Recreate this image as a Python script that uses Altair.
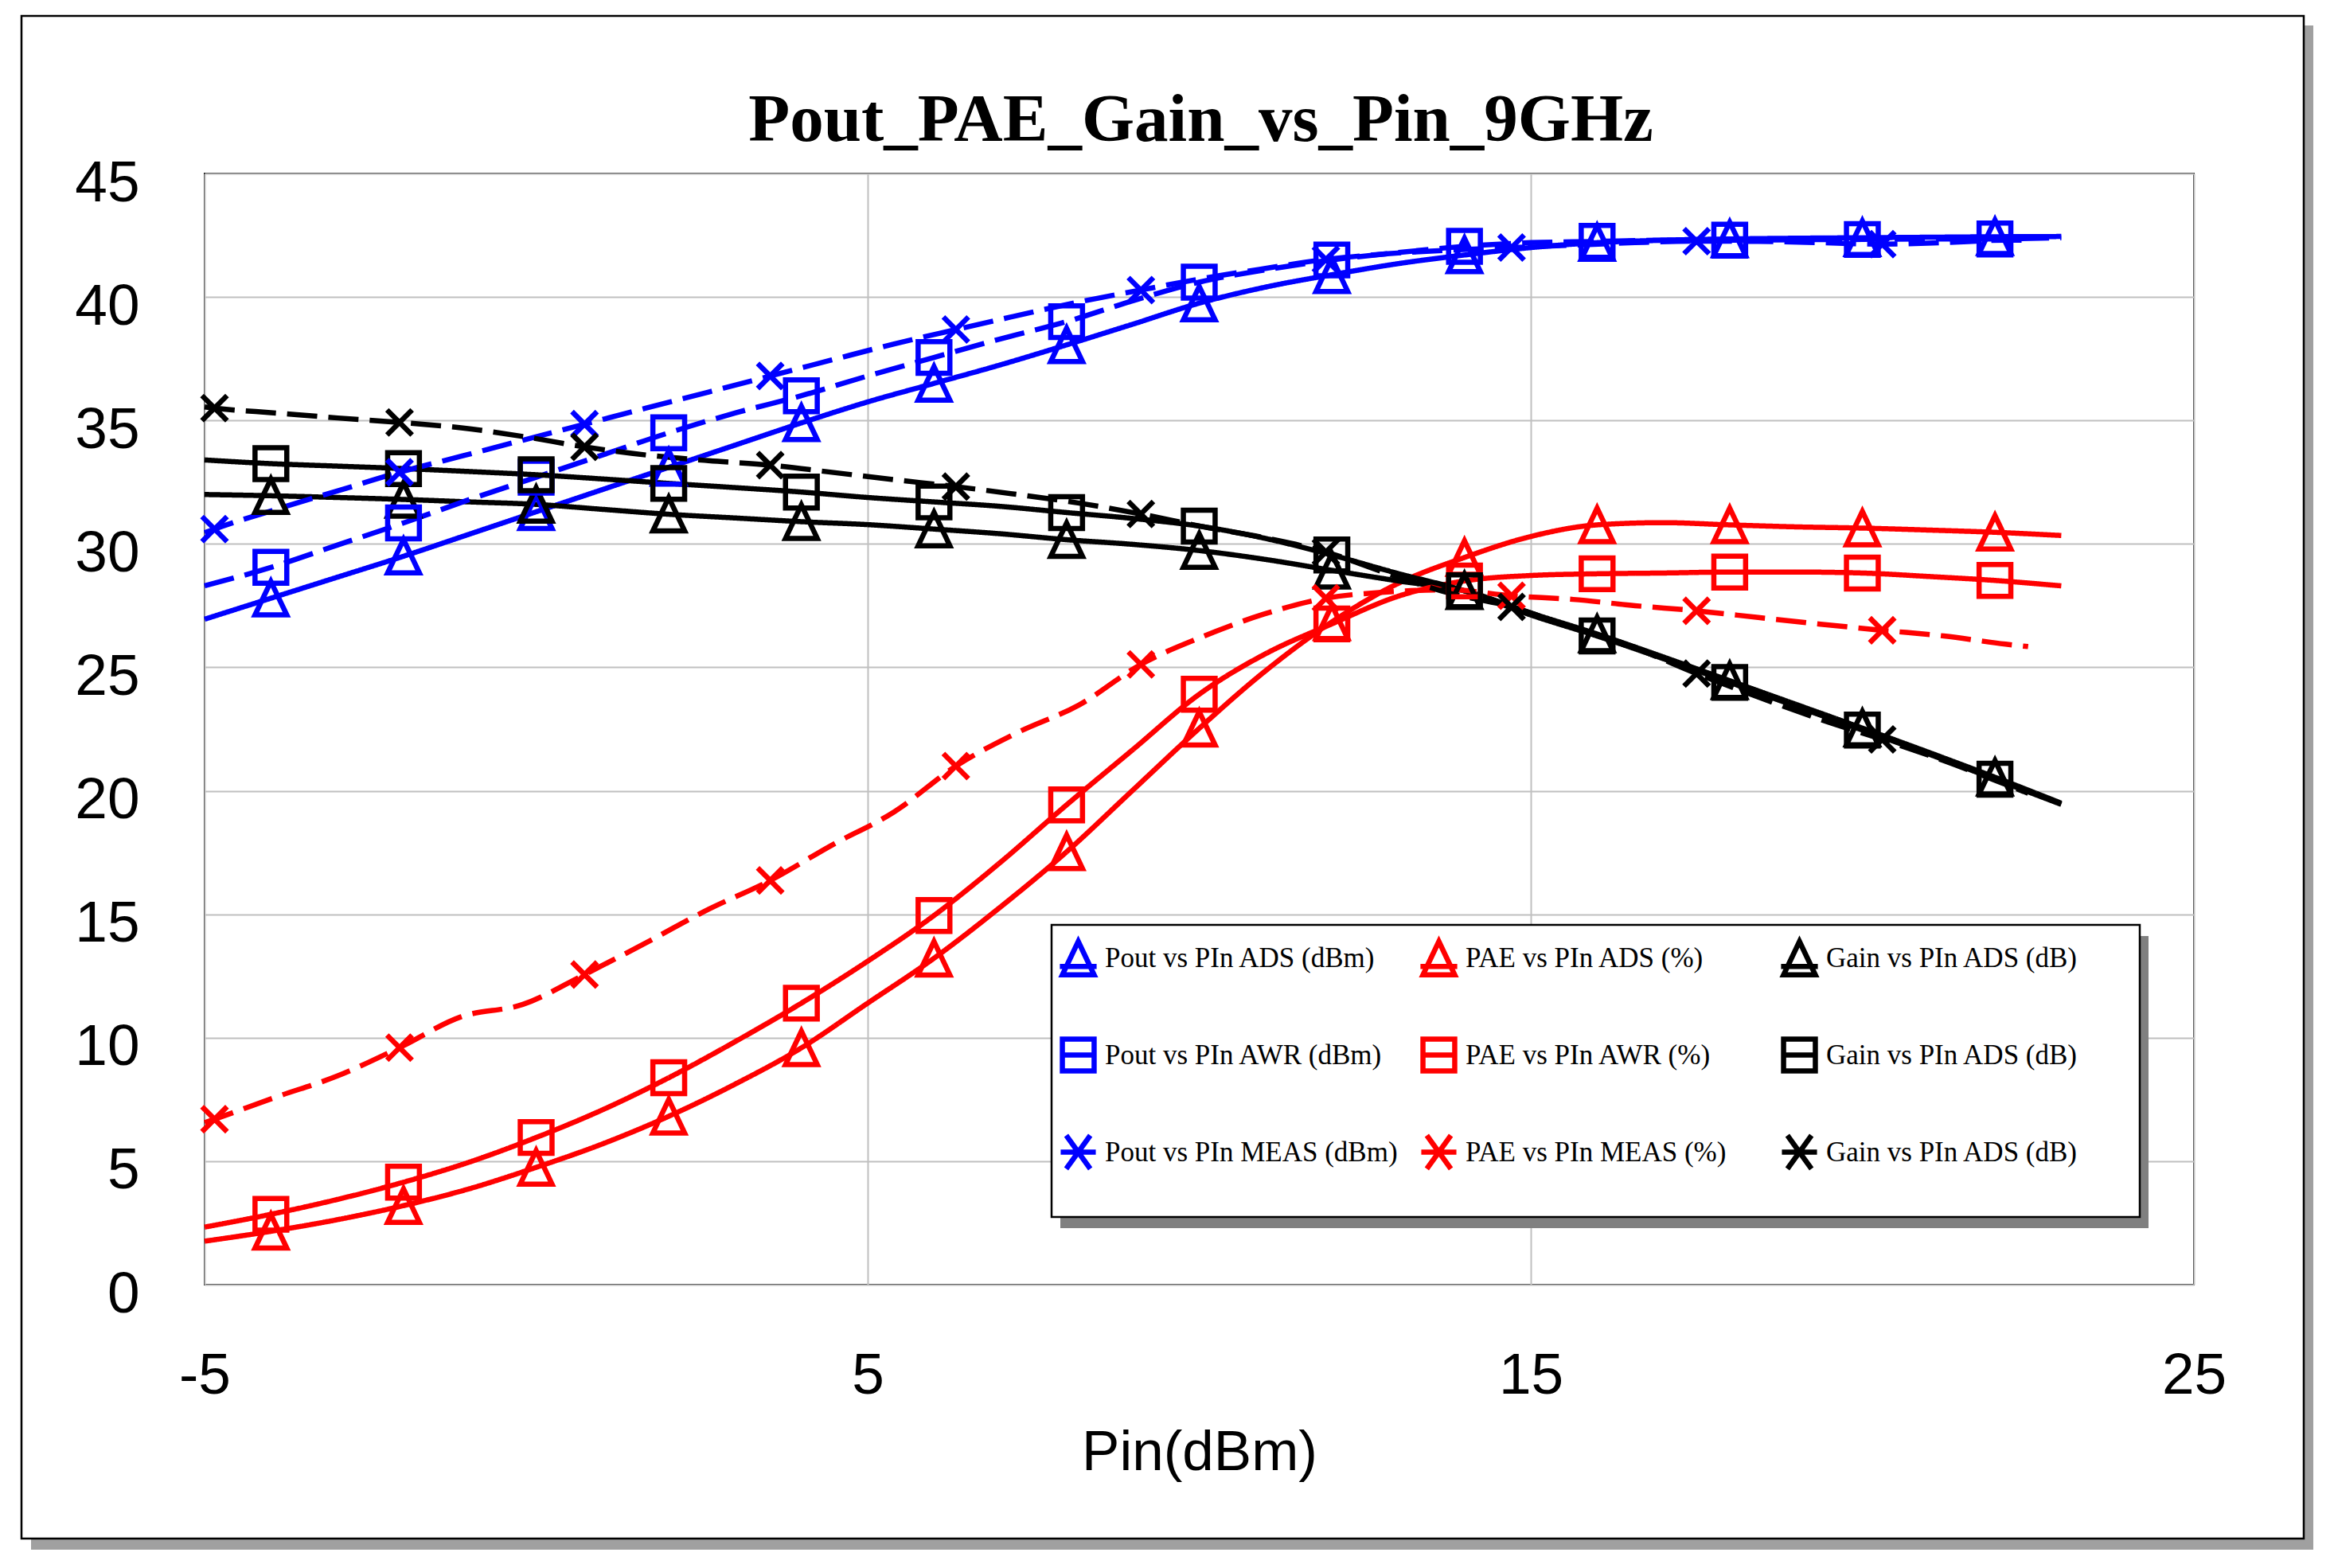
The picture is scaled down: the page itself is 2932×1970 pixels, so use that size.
import altair as alt
import pandas as pd

# ---------------- data ----------------
x_sim = list(range(-5, 24))
x_sim_markers = [-4, -2, 0, 2, 4, 6, 8, 10, 12, 14, 16, 18, 20, 22]

pout_ads = [26.95, 27.8, 28.65, 29.5, 30.4, 31.3, 32.2, 33.1, 34.0, 34.9, 35.75, 36.5, 37.25, 38.06,
            38.9, 39.75, 40.4, 40.9, 41.35, 41.7, 42.0, 42.2, 42.3, 42.35, 42.38, 42.4, 42.42, 42.44, 42.45]
pout_awr = [28.3, 29.05, 29.95, 30.85, 31.8, 32.7, 33.6, 34.5, 35.3, 36.0, 36.8, 37.55, 38.3, 39.0,
            39.85, 40.6, 41.1, 41.5, 41.8, 42.05, 42.2, 42.25, 42.3, 42.3, 42.32, 42.33, 42.35, 42.35, 42.4]
pae_ads = [1.76, 2.16, 2.63, 3.2, 3.89, 4.75, 5.7, 6.82, 8.12, 9.59, 11.4, 13.22, 15.29, 17.53,
           20.03, 22.53, 24.86, 26.84, 28.4, 29.45, 30.3, 30.77, 30.86, 30.77, 30.69, 30.64, 30.56, 30.47, 30.34]
pae_awr = [2.33, 2.85, 3.45, 4.15, 4.97, 5.96, 7.08, 8.38, 9.84, 11.4, 13.1, 14.95, 17.1, 19.43,
           21.67, 23.91, 25.55, 26.76, 27.88, 28.5, 28.72, 28.79, 28.82, 28.86, 28.86, 28.82, 28.68, 28.52, 28.3]
gain_ads = [32.0, 31.95, 31.88, 31.8, 31.7, 31.6, 31.4, 31.2, 31.05, 30.9, 30.78, 30.6, 30.41, 30.17,
            29.98, 29.73, 29.37, 28.93, 28.5, 28.1, 27.2, 26.35, 25.42, 24.46, 23.5, 22.54, 21.56, 20.55, 19.5]
gain_awr = [33.4, 33.25, 33.15, 33.05, 32.93, 32.8, 32.63, 32.45, 32.28, 32.1, 31.88, 31.7, 31.52, 31.27,
            31.03, 30.72, 30.22, 29.55, 28.8, 28.1, 27.12, 26.27, 25.35, 24.39, 23.42, 22.46, 21.49, 20.47, 19.45]

x_meas = [-5.0, -4.85, -3.92, -2.99, -2.06, -1.13, -0.2, 0.73, 1.66, 2.6, 3.53, 4.46, 5.4, 6.33, 7.26, 8.19,
          9.12, 10.05, 10.98, 11.91, 12.84, 13.78, 14.71, 15.64, 16.57, 17.5, 18.43, 19.37, 20.3, 21.23, 22.16, 22.5]
x_meas_markers = [-4.85, -2.06, 0.73, 3.53, 6.33, 9.12, 11.91, 14.71, 17.5, 20.3]

pout_meas = [30.45, 30.6, 31.4, 32.15, 32.9, 33.55, 34.2, 34.85, 35.5, 36.15, 36.8, 37.45, 38.1, 38.68, 39.25, 39.8,
             40.28, 40.75, 41.15, 41.52, 41.75, 41.9, 42.0, 42.1, 42.2, 42.26, 42.25, 42.2, 42.14, 42.2, 42.3, 42.3]
pae_meas = [6.56, 6.7, 7.6, 8.46, 9.6, 10.85, 11.35, 12.56, 13.85, 15.2, 16.37, 17.8, 19.15, 21.0, 22.36, 23.48,
            25.12, 26.24, 27.16, 27.8, 28.05, 28.14, 27.9, 27.75, 27.5, 27.29, 27.02, 26.75, 26.5, 26.27, 25.94, 25.84]
gain_meas = [35.55, 35.5, 35.3, 35.1, 34.92, 34.7, 34.35, 33.93, 33.6, 33.37, 33.19, 32.9, 32.6, 32.32, 32.0, 31.65,
             31.21, 30.7, 30.25, 29.67, 28.8, 28.0, 27.45, 26.6, 25.78, 24.75, 23.8, 22.89, 22.08, 21.22, 20.26, 19.9]

series_keys = ["Pout ADS", "PAE ADS", "Gain ADS",
               "Pout AWR", "PAE AWR", "Gain AWR",
               "Pout MEAS", "PAE MEAS", "Gain MEAS"]
legend_labels = ["Pout vs PIn ADS (dBm)", "PAE vs PIn ADS (%)", "Gain vs PIn ADS (dB)",
                 "Pout vs PIn AWR (dBm)", "PAE vs PIn AWR (%)", "Gain vs PIn ADS (dB)",
                 "Pout vs PIn MEAS (dBm)", "PAE vs PIn MEAS (%)", "Gain vs PIn ADS (dB)"]
title_text = "Pout_PAE_Gain_vs_Pin_9GHz"

# ---------------- styles ----------------
BLUE, RED, BLACK = "#0000ff", "#ff0000", "#000000"
series_colors = [BLUE, RED, BLACK] * 3
SOLID = [1, 0]
DASH = [38, 14]
series_dash = [SOLID, SOLID, SOLID, DASH, SOLID, SOLID, DASH, DASH, DASH]
TRI = "M0,-1L0.95,1L-0.95,1Z"
SQ = "M-0.95,-0.95L0.95,-0.95L0.95,0.95L-0.95,0.95Z"
XS = "M-0.75,-0.75L0.75,0.75M-0.75,0.75L0.75,-0.75"
series_shapes = [TRI] * 3 + [SQ] * 3 + [XS] * 3
TRI_L = TRI + "M-1.1,0.5L1.1,0.5"
SQ_L = SQ + "M-1.1,0L1.1,0"
XS_L = "M-0.72,-1L0.72,1M-0.72,1L0.72,-1M-1.05,0L1.05,0"
legend_shapes = [TRI_L] * 3 + [SQ_L] * 3 + [XS_L] * 3

# ---------------- long table ----------------
rows = []
sim = {"Pout ADS": pout_ads, "PAE ADS": pae_ads, "Gain ADS": gain_ads,
       "Pout AWR": pout_awr, "PAE AWR": pae_awr, "Gain AWR": gain_awr}
meas = {"Pout MEAS": pout_meas, "PAE MEAS": pae_meas, "Gain MEAS": gain_meas}
for key, vals in sim.items():
    for xv, yv in zip(x_sim, vals):
        rows.append({"x": xv, "y": yv, "series": key, "marker": int(xv in x_sim_markers)})
for key, vals in meas.items():
    for xv, yv in zip(x_meas, vals):
        rows.append({"x": xv, "y": yv, "series": key, "marker": int(xv in x_meas_markers)})
df = pd.DataFrame(rows)

W, H = 2499, 1396
LW = 6.5

x_enc = alt.X("x:Q", scale=alt.Scale(domain=[-5, 25], nice=False, zero=False),
              axis=alt.Axis(values=[-5, 5, 15, 25], title="Pin(dBm)", grid=True,
                            gridColor="#c0c0c0", gridWidth=2, domain=False, ticks=False, tickSize=0,
                            labelFont="Liberation Sans", labelFontSize=73, labelColor="black",
                            labelPadding=136, labelBaseline="alphabetic", labelFlush=False,
                            labelOverlap=False, labelExpr="'' + datum.value",
                            titleFont="Liberation Sans", titleFontSize=71, titleFontWeight="normal",
                            titleColor="black", titleBaseline="alphabetic", titleY=232))
y_enc = alt.Y("y:Q", scale=alt.Scale(domain=[0, 45], nice=False, zero=False),
              axis=alt.Axis(values=list(range(0, 50, 5)), title=None, grid=True,
                            gridColor="#c0c0c0", gridWidth=2, domain=False, ticks=False, tickSize=0,
                            labelFont="Liberation Sans", labelFontSize=73, labelColor="black",
                            labelPadding=82, labelBaseline="alphabetic", labelOffset=34,
                            labelFlush=False, labelOverlap=False))

color_scale = alt.Scale(domain=series_keys, range=series_colors)

lines = alt.Chart(df).mark_line(strokeWidth=LW, interpolate="monotone", strokeCap="butt").encode(
    x=x_enc, y=y_enc,
    color=alt.Color("series:N", scale=color_scale, legend=None),
    strokeDash=alt.StrokeDash("series:N", scale=alt.Scale(domain=series_keys, range=series_dash), legend=None),
    order="x:Q",
)

points = alt.Chart(df).transform_filter("datum.marker == 1").mark_point(
    filled=False, strokeWidth=LW, size=1764, opacity=1).encode(
    x=x_enc, y=y_enc,
    color=alt.Color("series:N", scale=color_scale, legend=None),
    shape=alt.Shape("series:N", scale=alt.Scale(domain=series_keys, range=series_shapes), legend=None),
)

# decorative frames (outer frame with shadow, legend box with shadow)
one = pd.DataFrame({"a": [0]})


def box(x1, x2, y1, y2, **kw):
    return alt.Chart(one).mark_rect(**kw).encode(
        x=alt.value(x1), x2=alt.value(x2), y=alt.value(y1), y2=alt.value(y2))


outer_shadow_r = box(2637, 2649, -186, 1729, color="#a0a0a0")
outer_shadow_b = box(-218, 2649, 1715, 1729, color="#a0a0a0")
outer_frame = box(-230, 2637, -198, 1715, fill="white", fillOpacity=0, stroke="black", strokeWidth=2.5)
leg_shadow = box(1075, 2442, 958, 1325, color="#808080")
leg_box = box(1064, 2431, 944, 1311, fill="white", stroke="black", strokeWidth=2.5)

title = alt.Chart(pd.DataFrame({"t": [title_text]})).mark_text(
    font="Liberation Serif", fontSize=85, fontWeight="bold", color="black",
    align="center", baseline="alphabetic").encode(
    text="t:N", x=alt.value(W / 2 + 2), y=alt.value(-41))

label_expr = ""
for k, lab in zip(series_keys, legend_labels):
    label_expr += f"datum.label == '{k}' ? '{lab}' : "
label_expr += "datum.label"

leg = alt.Legend(orient="none", legendX=1073, legendY=961, columns=3, direction="horizontal",
                 gridAlign="all", columnPadding=15, rowPadding=53, padding=0, title=None,
                 labelFont="Liberation Serif", labelFontSize=35, labelColor="black",
                 labelLimit=800, labelOffset=9, symbolSize=1764, symbolStrokeWidth=LW,
                 labelExpr=label_expr)

legend_layer = alt.Chart(df).transform_filter("false").mark_point(
    filled=False, strokeWidth=LW, size=1764, opacity=1).encode(
    x=x_enc, y=y_enc,
    color=alt.Color("series:N", scale=alt.Scale(domain=series_keys, range=series_colors), legend=leg),
    shape=alt.Shape("series:N", scale=alt.Scale(domain=series_keys, range=legend_shapes), legend=leg),
)

chart = alt.layer(
    outer_shadow_r, outer_shadow_b, outer_frame, title,
    lines, points, leg_shadow, leg_box, legend_layer
).resolve_scale(
    color="independent", shape="independent", strokeDash="independent"
).properties(
    width=W, height=H,
    autosize=alt.AutoSizeParams(type="none"),
    padding={"left": 249, "top": 210, "right": 166, "bottom": 346},
).configure(background="white").configure_view(stroke="black", strokeWidth=2)

chart.save("out.html", embed_options={"renderer": "svg", "actions": False})
